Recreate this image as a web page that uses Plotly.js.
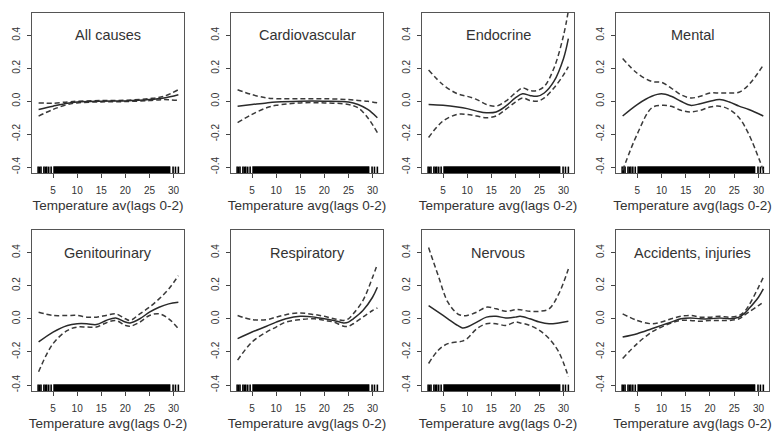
<!DOCTYPE html>
<html>
<head>
<meta charset="utf-8">
<script src="https://cdn.plot.ly/plotly-3.0.1.min.js"></script>
<style>html,body{margin:0;padding:0;background:#fff;}#chart{width:776px;height:439px;}</style>
</head>
<body>
<div id="chart"></div>
<script>
// ---------- DATA ----------
const panelTitles = ["All causes", "Cardiovascular", "Endocrine", "Mental",
                     "Genitourinary", "Respiratory", "Nervous", "Accidents, injuries"];
const xTitles = ["Temperature av(lags 0-2)", "Temperature avg(lags 0-2)", "Temperature avg(lags 0-2)", "Temperature avg(lags 0-2)",
                 "Temperature avg(lags 0-2)", "Temperature avg(lags 0-2)", "Temperature avg(lags 0-2)", "Temperature avg(lags 0-2)"];
const xTickVals = [5, 10, 15, 20, 25, 30];
const yTickVals = [-0.4, -0.2, 0, 0.2, 0.4];
const yTickText = ["-0.4", "-0.2", "0.0", "0.2", "0.4"];

// All causes
const allX   = [2, 5, 8, 10, 15, 20, 25, 28, 31];
const allFit = [-0.05, -0.03, -0.012, -0.005, 0.0, 0.002, 0.01, 0.02, 0.04];
const allHi  = [-0.01, -0.012, -0.004, 0.0, 0.004, 0.006, 0.016, 0.03, 0.07];
const allLo  = [-0.09, -0.05, -0.02, -0.01, -0.004, -0.002, 0.004, 0.01, 0.005];

// Cardiovascular
const cardX   = [2, 5, 8, 10, 15, 20, 25, 27, 29, 31];
const cardFit = [-0.03, -0.02, -0.01, -0.005, 0.0, 0.0, -0.005, -0.02, -0.05, -0.1];
const cardHi  = [0.07, 0.04, 0.02, 0.015, 0.015, 0.015, 0.01, 0.005, 0.0, -0.01];
const cardLo  = [-0.13, -0.08, -0.04, -0.025, -0.01, -0.01, -0.02, -0.04, -0.1, -0.19];

// Endocrine
const endoX   = [2, 5, 8, 10, 12, 14, 16, 18, 20, 21.5, 23, 24.5, 26, 28, 30, 31];
const endoFit = [-0.02, -0.025, -0.035, -0.045, -0.06, -0.07, -0.065, -0.03, 0.02, 0.045, 0.035, 0.03, 0.05, 0.12, 0.26, 0.38];
const endoHi  = [0.19, 0.1, 0.045, 0.03, 0.01, -0.02, -0.03, 0.0, 0.05, 0.08, 0.065, 0.065, 0.09, 0.2, 0.4, 0.55];
const endoLo  = [-0.22, -0.12, -0.08, -0.08, -0.09, -0.1, -0.09, -0.05, -0.005, 0.02, 0.005, 0.0, 0.02, 0.08, 0.16, 0.21];

// Mental
const mentX   = [2, 5, 8, 10, 12, 14, 16, 18, 20, 22, 24, 26, 28, 31];
const mentFit = [-0.09, -0.02, 0.03, 0.045, 0.03, 0.0, -0.025, -0.015, 0.0, 0.01, -0.005, -0.03, -0.05, -0.09];
const mentHi  = [0.26, 0.17, 0.12, 0.115, 0.08, 0.04, 0.02, 0.03, 0.05, 0.05, 0.05, 0.055, 0.1, 0.22];
const mentLo  = [-0.42, -0.2, -0.04, -0.025, -0.03, -0.055, -0.065, -0.055, -0.035, -0.03, -0.05, -0.1, -0.2, -0.42];

// Genitourinary
const genX   = [2, 5, 8, 10, 12, 14, 16, 18, 20, 21, 23, 25, 27, 29, 31];
const genFit = [-0.14, -0.08, -0.04, -0.03, -0.03, -0.035, -0.01, 0.005, -0.02, -0.025, 0.0, 0.04, 0.07, 0.09, 0.1];
const genHi  = [0.04, 0.02, 0.02, 0.02, 0.01, 0.01, 0.02, 0.03, 0.0, -0.01, 0.03, 0.07, 0.12, 0.18, 0.26];
const genLo  = [-0.32, -0.15, -0.07, -0.05, -0.05, -0.05, -0.025, -0.01, -0.04, -0.045, -0.02, 0.02, 0.03, 0.0, -0.06];

// Respiratory
const respX   = [2, 5, 8, 10, 12, 15, 18, 20, 22, 24, 25, 26, 28, 30, 31];
const respFit = [-0.12, -0.08, -0.045, -0.02, 0.0, 0.015, 0.01, 0.0, -0.01, -0.025, -0.02, 0.0, 0.05, 0.13, 0.19];
const respHi  = [0.02, -0.005, -0.005, 0.01, 0.025, 0.035, 0.025, 0.015, 0.0, -0.01, 0.0, 0.03, 0.11, 0.25, 0.33];
const respLo  = [-0.25, -0.14, -0.08, -0.05, -0.02, -0.005, 0.0, -0.01, -0.02, -0.045, -0.045, -0.03, 0.01, 0.05, 0.065];

// Nervous
const nervX   = [2, 4, 6, 8, 9, 10, 12, 14, 16, 18, 20, 21, 23, 25, 27, 29, 31];
const nervFit = [0.08, 0.04, 0.0, -0.04, -0.055, -0.05, -0.02, 0.01, 0.015, 0.005, 0.01, 0.015, 0.0, -0.02, -0.03, -0.025, -0.015];
const nervHi  = [0.43, 0.26, 0.1, 0.03, 0.02, 0.02, 0.04, 0.07, 0.06, 0.045, 0.055, 0.055, 0.045, 0.045, 0.06, 0.15, 0.3];
const nervLo  = [-0.27, -0.19, -0.15, -0.14, -0.135, -0.12, -0.06, -0.03, -0.03, -0.04, -0.02, -0.025, -0.04, -0.07, -0.12, -0.2, -0.35];

// Accidents, injuries
const accX   = [2, 5, 8, 10, 12, 14, 16, 18, 20, 22, 24, 26, 27, 28, 30, 31];
const accFit = [-0.11, -0.09, -0.06, -0.04, -0.02, 0.0, 0.005, 0.0, 0.0, 0.005, 0.0, 0.01, 0.03, 0.06, 0.13, 0.18];
const accHi  = [0.03, -0.01, -0.03, -0.02, 0.0, 0.015, 0.02, 0.01, 0.01, 0.015, 0.01, 0.02, 0.04, 0.08, 0.19, 0.25];
const accLo  = [-0.24, -0.15, -0.08, -0.05, -0.025, -0.01, -0.01, -0.015, -0.01, -0.01, -0.01, 0.0, 0.02, 0.04, 0.08, 0.1];

// Rug of observed temperatures (sparse ends + dense band)
const rugLow   = [1.9, 2.2, 2.5, 3.1, 3.4, 3.7, 4.1, 4.6];
const rugDense = [5.1, 29.3];
const rugHigh  = [29.9, 30.4, 31.0];

// ---------- DRAWING ----------
const panels = [
  [allX, allFit, allHi, allLo], [cardX, cardFit, cardHi, cardLo],
  [endoX, endoFit, endoHi, endoLo], [mentX, mentFit, mentHi, mentLo],
  [genX, genFit, genHi, genLo], [respX, respFit, respHi, respLo],
  [nervX, nervFit, nervHi, nervLo], [accX, accFit, accHi, accLo]
];

const W = 776, H = 439;
const colPx = [[32, 184], [231, 383], [422, 574], [616, 769]];
const rowPx = [[13, 173], [230, 391]];
const XR = [0.63, 32.17], YR = [-0.436, 0.536];
const rugB = -0.436, rugT = -0.397;
const FONT = "Liberation Sans, Arial, Helvetica, sans-serif";
const TXT = "#333";

const traces = [];
const layout = {
  width: W, height: H, margin: {l: 0, r: 0, t: 0, b: 0},
  paper_bgcolor: "#fff", plot_bgcolor: "#fff", showlegend: false,
  font: {family: FONT, color: TXT}, annotations: []
};

panels.forEach((p, i) => {
  const n = i + 1;
  const xa = "x" + (n === 1 ? "" : n), ya = "y" + (n === 1 ? "" : n);
  const xk = "xaxis" + (n === 1 ? "" : n), yk = "yaxis" + (n === 1 ? "" : n);
  const c = colPx[i % 4], r = rowPx[Math.floor(i / 4)];
  const [x, fit, hi, lo] = p;

  // rug: sparse ticks
  const rx = [], ry = [];
  rugLow.concat(rugHigh).forEach(v => { rx.push(v, v, null); ry.push(rugB, rugT, null); });
  traces.push({x: rx, y: ry, xaxis: xa, yaxis: ya, mode: "lines", line: {color: "#000", width: 1.6}, hoverinfo: "skip"});
  // rug: dense band
  traces.push({x: [rugDense[0], rugDense[1], rugDense[1], rugDense[0], rugDense[0]],
               y: [rugB, rugB, rugT, rugT, rugB], xaxis: xa, yaxis: ya, mode: "lines",
               fill: "toself", fillcolor: "#000", line: {color: "#000", width: 0.5}, hoverinfo: "skip"});

  traces.push({x: x, y: hi, xaxis: xa, yaxis: ya, mode: "lines",
               line: {color: "#3a3a3a", width: 1.5, dash: "5px,3px", shape: "spline", smoothing: 1}});
  traces.push({x: x, y: lo, xaxis: xa, yaxis: ya, mode: "lines",
               line: {color: "#3a3a3a", width: 1.5, dash: "5px,3px", shape: "spline", smoothing: 1}});
  traces.push({x: x, y: fit, xaxis: xa, yaxis: ya, mode: "lines",
               line: {color: "#2a2a2a", width: 1.5, shape: "spline", smoothing: 1}});

  layout[xk] = {
    domain: [c[0] / W, c[1] / W], anchor: ya, range: XR, fixedrange: true,
    tickmode: "array", tickvals: xTickVals, ticks: "outside", ticklen: 4, tickcolor: "#444",
    showline: true, mirror: true, linecolor: "#555", linewidth: 1,
    showgrid: false, zeroline: false, automargin: false,
    tickfont: {size: 10, color: TXT, family: FONT}, ticklabelstandoff: 4,
    title: {text: xTitles[i], font: {size: 13.5, color: TXT, family: FONT}, standoff: 5}
  };
  layout[yk] = {
    domain: [(H - r[1]) / H, (H - r[0]) / H], anchor: xa, range: YR, fixedrange: true,
    tickmode: "array", tickvals: yTickVals, ticktext: yTickText, tickangle: -90,
    ticks: "outside", ticklen: 4, tickcolor: "#444",
    showline: true, mirror: true, linecolor: "#555", linewidth: 1,
    showgrid: false, zeroline: false, automargin: false,
    tickfont: {size: 10, color: TXT, family: FONT}, ticklabelstandoff: 3
  };
  layout.annotations.push({
    text: panelTitles[i], xref: xa + " domain", yref: ya, x: 0.5, y: 0.4,
    xanchor: "center", yanchor: "middle", showarrow: false,
    font: {size: 14.5, color: TXT, family: FONT}
  });
});

Plotly.newPlot("chart", traces, layout, {staticPlot: true, displayModeBar: false});
</script>
</body>
</html>
